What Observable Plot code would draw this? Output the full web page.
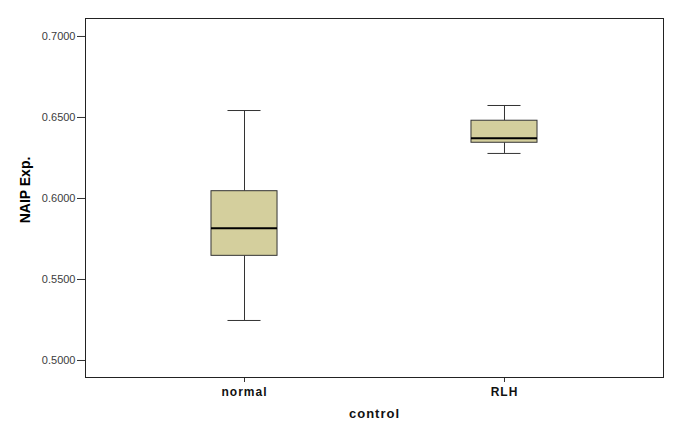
<!DOCTYPE html>
<html>
<head>
<meta charset="utf-8">
<script src="https://cdn.jsdelivr.net/npm/d3@7"></script>
<script src="https://cdn.jsdelivr.net/npm/@observablehq/plot@0.6"></script>
<style>
  html, body { margin: 0; padding: 0; background: #fff; }
  svg { font-family: "Liberation Sans", Arial, sans-serif; }
  g[aria-label="y-axis tick label"] text { font-size: 11px; fill: #3c3c3c; }
  g[aria-label="x-axis tick label"] text { font-size: 12px; font-weight: bold; fill: #111; letter-spacing: 1px; }
  g[aria-label="x-axis label"] text { font-size: 13px; font-weight: bold; fill: #111; letter-spacing: 1px; }
</style>
</head>
<body>
<div id="chart"></div>
<script>
const groups = ["normal", "RLH"];
const whiskerLow = [0.5247, 0.6278];
const q1 = [0.5646, 0.6344];
const median = [0.5817, 0.6372];
const q3 = [0.6045, 0.6480];
const whiskerHigh = [0.6543, 0.6574];
const yTicks = [0.5, 0.55, 0.6, 0.65, 0.7];
const yLabel = "NAIP Exp.";

const data = groups.map((g, i) => ({
  group: g, lo: whiskerLow[i], q1: q1[i], med: median[i], q3: q3[i], hi: whiskerHigh[i]
}));

const chart = Plot.plot({
  width: 685,
  height: 436,
  marginLeft: 85,
  marginRight: 22,
  marginTop: 18,
  marginBottom: 59,
  x: { domain: groups, paddingInner: 0.746, paddingOuter: 0.4846, round: false },
  y: { domain: [0.4895, 0.7111] },
  marks: [
    Plot.ruleX(data, { x: "group", y1: "lo", y2: "q1", stroke: "#333" }),
    Plot.ruleX(data, { x: "group", y1: "q3", y2: "hi", stroke: "#333" }),
    Plot.barY(data, { x: "group", y1: "q1", y2: "q3", fill: "#d4cf9d", stroke: "#333", strokeWidth: 1 }),
    Plot.tickY(data, { x: "group", y: "med", stroke: "#000", strokeWidth: 2 }),
    Plot.tickY(data, { x: "group", y: "lo", stroke: "#333", insetLeft: 16.5, insetRight: 16.5 }),
    Plot.tickY(data, { x: "group", y: "hi", stroke: "#333", insetLeft: 16.5, insetRight: 16.5 }),
    Plot.axisY({
      ticks: yTicks, tickFormat: d3.format(".4f"), tickSize: 8, tickPadding: 2,
      stroke: "#333", label: null
    }),
    Plot.text([yLabel], {
      text: d => d, frameAnchor: "left", textAnchor: "middle", lineAnchor: "middle",
      dx: -60, dy: -8, rotate: -90,
      fontSize: 14, fontWeight: "bold", fill: "#000"
    }),
    Plot.axisX({
      tickSize: 5, tickPadding: 5, stroke: "#333",
      label: "control", labelAnchor: "center", labelArrow: "none", labelOffset: 40
    }),
    Plot.frame({ stroke: "#222" })
  ]
});
document.getElementById("chart").appendChild(chart);
</script>
</body>
</html>
